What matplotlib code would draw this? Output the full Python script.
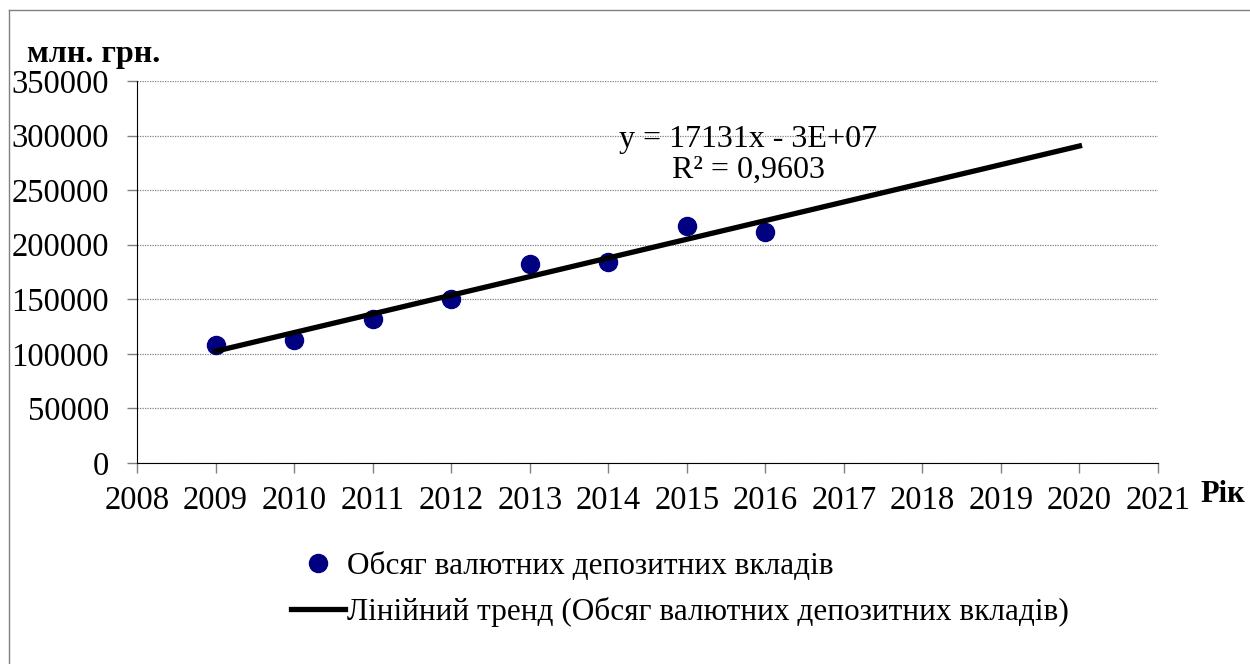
import numpy as np
import matplotlib.pyplot as plt
from matplotlib.lines import Line2D

plt.rcParams['font.family'] = ['Liberation Serif', 'DejaVu Serif']

# data
years = [2009, 2010, 2011, 2012, 2013, 2014, 2015, 2016]
deposits = [108000, 113000, 132000, 150000, 182000, 184000, 217000, 212000]
trend_years = [2009, 2020]

# linear trend fitted to the points, extended to 2020
k, b = np.polyfit(years, deposits, 1)
trend_vals = [k * t + b for t in trend_years]

fig = plt.figure(figsize=(12.5, 6.64), dpi=100)
ax = fig.add_axes([0.1096, 0.3027, 0.8168, 0.5753])

ax.plot(years, deposits, 'o', color='#000080', markersize=13, zorder=3,
        label='Обсяг валютних депозитних вкладів')
ax.plot(trend_years, trend_vals, '-', color='black', lw=3.8, zorder=4,
        label='Лінійний тренд (Обсяг валютних депозитних вкладів)')

ax.set_xlim(2008, 2021)
ax.set_ylim(0, 350000)
ax.set_xticks(range(2008, 2022))
ax.set_yticks(range(0, 350001, 50000))
ax.yaxis.grid(True, linestyle=(0, (1, 1)), color='#808080', lw=0.9)
ax.set_axisbelow(True)
for s in ['top', 'right']:
    ax.spines[s].set_visible(False)
ax.tick_params(axis='both', labelsize=23.5, length=7, color='#808080', width=1)
ax.tick_params(axis='x', pad=9)
ax.tick_params(axis='y', pad=13)

fig.text(0.0216, 0.906, 'млн. грн.', fontsize=23, fontweight='bold',
         ha='left', va='baseline')
fig.text(0.96, 0.244, 'Рік', fontsize=22, fontweight='bold',
         ha='left', va='baseline')

ax.text(2015.78, 282000, 'y = 17131x - 3E+07\nR² = 0,9603', fontsize=23,
        ha='center', va='center', linespacing=1.1)

fig.legend(loc='upper left', bbox_to_anchor=(0.2224, 0.187), frameon=False,
           fontsize=22.5, handlelength=1.75, handletextpad=0.05,
           labelspacing=0.5, borderaxespad=0)

# frame of the chart area (left and top edges)
fig.add_artist(Line2D([0.0072, 0.0072], [0, 0.985], transform=fig.transFigure,
                      color='#808080', lw=1))
fig.add_artist(Line2D([0.0072, 1], [0.985, 0.985], transform=fig.transFigure,
                      color='#808080', lw=1))

fig.savefig('out.png', dpi=100)
